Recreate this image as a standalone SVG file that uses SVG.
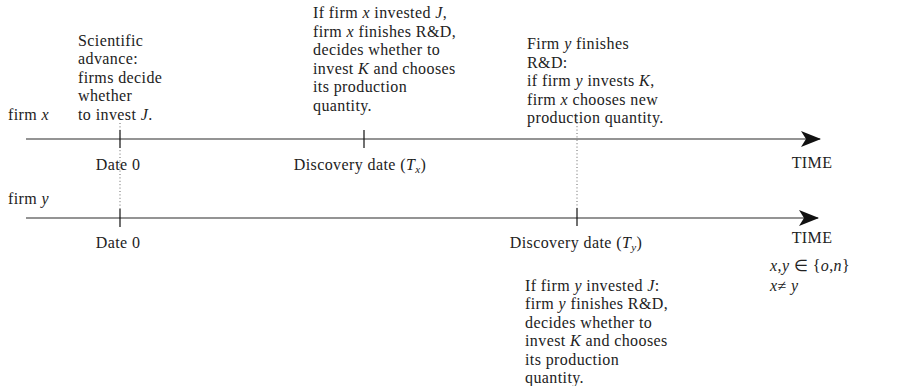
<svg xmlns="http://www.w3.org/2000/svg" width="918" height="386" viewBox="0 0 918 386">
<style>
text{font-family:"Liberation Serif","Times New Roman",serif;font-size:16px;fill:#222;letter-spacing:0.4px}
.i{font-style:italic}
.sub{font-size:11px;font-style:italic}
.axis{stroke:#2a2a2a;stroke-width:1.1;fill:none}
.tick{stroke:#111;stroke-width:1.2}
.dot{stroke:#666;stroke-width:1;stroke-dasharray:1 2.4}
.mid{text-anchor:middle}
</style>
<defs>
<marker id="stealth" viewBox="0 0 20 16" refX="19" refY="8" markerWidth="20" markerHeight="16" markerUnits="userSpaceOnUse" orient="auto">
<path d="M0,0 L20,8 L0,16 L5,8 Z" fill="#111"/>
</marker>
</defs>
<rect width="918" height="386" fill="#fff"/>
<g id="connectors">
<line class="axis" x1="26" y1="139" x2="820" y2="139" marker-end="url(#stealth)"/>
<line class="axis" x1="26" y1="218" x2="818" y2="218" marker-end="url(#stealth)"/>
<line class="tick" x1="120" y1="130" x2="120" y2="148"/>
<line class="tick" x1="364" y1="130" x2="364" y2="148"/>
<line class="tick" x1="120" y1="209" x2="120" y2="227"/>
<line class="tick" x1="577" y1="208" x2="577" y2="226"/>
<line class="dot" x1="120" y1="123" x2="120" y2="209"/>
<line class="dot" x1="577" y1="116" x2="577" y2="208"/>
</g>
<g id="firm-x-label"><text x="8" y="120">firm <tspan class="i">x</tspan></text></g>
<g id="firm-y-label"><text x="8" y="204">firm <tspan class="i">y</tspan></text></g>
<g id="scientific-advance">
<text x="78" y="46">Scientific</text>
<text x="78" y="64.4">advance:</text>
<text x="78" y="82.8">firms decide</text>
<text x="78" y="101.2">whether</text>
<text x="78" y="119.6">to invest <tspan class="i">J</tspan>.</text>
</g>
<g id="firm-x-discovery">
<text x="313" y="18">If firm <tspan class="i">x</tspan> invested <tspan class="i">J</tspan>,</text>
<text x="313" y="36.5">firm <tspan class="i">x</tspan> finishes R&amp;D,</text>
<text x="313" y="55">decides whether to</text>
<text x="313" y="73.5">invest <tspan class="i">K</tspan> and chooses</text>
<text x="313" y="92">its production</text>
<text x="313" y="110.5">quantity.</text>
</g>
<g id="firm-y-finishes">
<text x="527" y="49">Firm <tspan class="i">y</tspan> finishes</text>
<text x="527" y="67.5">R&amp;D:</text>
<text x="527" y="86">if firm <tspan class="i">y</tspan> invests <tspan class="i">K</tspan>,</text>
<text x="527" y="104.5">firm <tspan class="i">x</tspan> chooses new</text>
<text x="527" y="123">production quantity.</text>
</g>
<g id="date0-x"><text class="mid" x="118" y="170">Date 0</text></g>
<g id="discovery-tx"><text class="mid" x="360" y="170">Discovery date (<tspan class="i">T</tspan><tspan class="sub" dy="3">x</tspan><tspan dy="-3">)</tspan></text></g>
<g id="time-x"><text class="mid" x="812" y="168">TIME</text></g>
<g id="date0-y"><text class="mid" x="118" y="248">Date 0</text></g>
<g id="discovery-ty"><text class="mid" x="576" y="248">Discovery date (<tspan class="i">T</tspan><tspan class="sub" dy="3">y</tspan><tspan dy="-3">)</tspan></text></g>
<g id="time-y"><text class="mid" x="812" y="243">TIME</text></g>
<g id="firm-y-discovery">
<text x="525" y="291">If firm <tspan class="i">y</tspan> invested <tspan class="i">J</tspan>:</text>
<text x="525" y="309.4">firm <tspan class="i">y</tspan> finishes R&amp;D,</text>
<text x="525" y="327.8">decides whether to</text>
<text x="525" y="346.2">invest <tspan class="i">K</tspan> and chooses</text>
<text x="525" y="364.6">its production</text>
<text x="525" y="383">quantity.</text>
</g>
<g id="legend">
<text x="770" y="271"><tspan class="i">x</tspan>,<tspan class="i">y</tspan> ∈ {<tspan class="i">o</tspan>,<tspan class="i">n</tspan>}</text>
<text x="770" y="291"><tspan class="i">x</tspan>≠ <tspan class="i">y</tspan></text>
</g>
</svg>
